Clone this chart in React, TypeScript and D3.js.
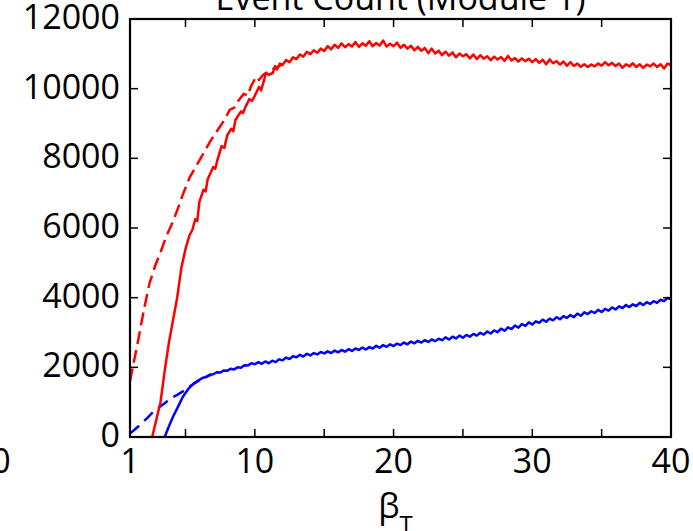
import React from "react";
import * as d3 from "d3";

const xTickMarks = [5, 10, 15, 20, 25, 30, 35];
const xTickLabels: [number, string][] = [[-8.3, "0"], [1, "1"], [10, "10"], [20, "20"], [30, "30"], [40, "40"]];
const yTickMarks = [2000, 4000, 6000, 8000, 10000];
const yTickLabels = [0, 2000, 4000, 6000, 8000, 10000, 12000];

const redSolid: [number, number][] = [
  [2.6, 0], [2.9, 500], [3.2, 1000], [3.5, 1900], [3.8, 2700], [4.1, 3350], [4.4, 4000], [4.7, 4850],
  [5.0, 5400], [5.3, 5800], [5.5, 5950], [5.7, 6250], [5.85, 6200], [6.0, 6750], [6.3, 7100], [6.45, 7050],
  [6.6, 7400], [7.0, 7750], [7.15, 7700], [7.3, 7950], [7.6, 8350], [7.8, 8300], [8.0, 8650], [8.3, 8850],
  [8.45, 8780], [8.6, 9100], [9.0, 9350], [9.15, 9300], [9.3, 9450], [9.6, 9700], [9.8, 9650], [10.0, 9800],
  [10.3, 10050], [10.45, 9950], [10.6, 10150], [10.8, 10450], [11.0, 10400], [11.3, 10450], [11.45, 10650],
  [11.6, 10550], [11.8, 10720],
  [12.0, 10680], [12.25, 10820], [12.5, 10760], [12.75, 10900], [13.0, 10850], [13.25, 10980], [13.5, 10920],
  [13.75, 11060], [14.0, 10990], [14.25, 11100], [14.5, 11030], [14.75, 11150], [15.0, 11080], [15.25, 11220],
  [15.5, 11130], [15.75, 11260], [16.0, 11170], [16.25, 11300], [16.5, 11190], [16.75, 11280], [17.0, 11210],
  [17.25, 11340], [17.5, 11200], [17.75, 11300], [18.0, 11230], [18.25, 11360], [18.5, 11220], [18.75, 11310],
  [19.0, 11240], [19.25, 11380], [19.5, 11210], [19.75, 11290], [20.0, 11220], [20.25, 11320], [20.5, 11170],
  [20.75, 11260], [21.0, 11150], [21.25, 11230], [21.5, 11100], [21.75, 11200], [22.0, 11090], [22.25, 11170],
  [22.5, 11020], [22.75, 11150], [23.0, 11010], [23.25, 11090], [23.5, 10960], [23.75, 11060], [24.0, 10950],
  [24.25, 11040], [24.5, 10900], [24.75, 11010], [25.0, 10930], [25.25, 10990], [25.5, 10870], [25.75, 10980],
  [26.0, 10850], [26.25, 10960], [26.5, 10860], [26.75, 10930], [27.0, 10820], [27.25, 10920], [27.5, 10840],
  [27.75, 10910], [28.0, 10800], [28.25, 10940], [28.5, 10810], [28.75, 10880], [29.0, 10780], [29.25, 10870],
  [29.5, 10790], [29.75, 10860], [30.0, 10760], [30.25, 10850], [30.5, 10740], [30.75, 10830], [31.0, 10700],
  [31.25, 10840], [31.5, 10730], [31.75, 10790], [32.0, 10690], [32.25, 10780], [32.5, 10660], [32.75, 10760],
  [33.0, 10650], [33.25, 10720], [33.5, 10630], [33.75, 10700], [34.0, 10620], [34.25, 10690], [34.5, 10640],
  [34.75, 10720], [35.0, 10660], [35.25, 10760], [35.5, 10670], [35.75, 10740], [36.0, 10650], [36.25, 10720],
  [36.5, 10600], [36.75, 10700], [37.0, 10640], [37.25, 10730], [37.5, 10620], [37.75, 10700], [38.0, 10600],
  [38.25, 10690], [38.5, 10640], [38.75, 10720], [39.0, 10620], [39.25, 10700], [39.5, 10580], [39.75, 10720],
  [40.0, 10680],
];

const redDashed: [number, number][] = [
  [1.0, 1600], [1.3, 2200], [1.6, 2800], [2.0, 3650], [2.4, 4400], [2.8, 4900], [3.2, 5300], [3.6, 5750],
  [4.0, 6100], [4.4, 6500], [4.8, 6950], [5.3, 7450], [5.8, 7800], [6.3, 8150], [6.8, 8500], [7.3, 8800],
  [7.8, 9100], [8.2, 9400], [8.5, 9450], [8.7, 9600], [9.2, 9850], [9.5, 9800], [9.7, 10050], [10.1, 10350],
  [10.3, 10250], [10.6, 10400], [11.0, 10500], [11.5, 10600], [12.0, 10700],
];

const blueSolid: [number, number][] = [
  [3.5, 0], [3.8, 300], [4.1, 580], [4.5, 900], [4.8, 1150], [5.2, 1380], [5.6, 1540],
  [6.0, 1640], [6.25, 1700], [6.5, 1720], [6.75, 1790], [7.0, 1800], [7.25, 1860], [7.5, 1850], [7.75, 1910],
  [8.0, 1900], [8.25, 1960], [8.5, 1940], [8.75, 2000], [9.0, 1990], [9.25, 2060], [9.5, 2050], [9.75, 2120],
  [10.0, 2090], [10.25, 2150], [10.5, 2100], [10.75, 2170], [11.0, 2120], [11.25, 2190], [11.5, 2150],
  [11.75, 2230], [12.0, 2200], [12.25, 2280], [12.5, 2240], [12.75, 2320], [13.0, 2290], [13.25, 2360],
  [13.5, 2310], [13.75, 2390], [14.0, 2340], [14.25, 2410], [14.5, 2370], [14.75, 2440], [15.0, 2400],
  [15.25, 2460], [15.5, 2410], [15.75, 2480], [16.0, 2430], [16.25, 2500], [16.5, 2450], [16.75, 2520],
  [17.0, 2470], [17.25, 2540], [17.5, 2500], [17.75, 2570], [18.0, 2510], [18.25, 2580], [18.5, 2540],
  [18.75, 2620], [19.0, 2560], [19.25, 2640], [19.5, 2590], [19.75, 2660], [20.0, 2610], [20.25, 2680],
  [20.5, 2640], [20.75, 2710], [21.0, 2660], [21.25, 2740], [21.5, 2690], [21.75, 2760], [22.0, 2710],
  [22.25, 2780], [22.5, 2730], [22.75, 2800], [23.0, 2750], [23.25, 2820], [23.5, 2780], [23.75, 2860],
  [24.0, 2800], [24.25, 2880], [24.5, 2830], [24.75, 2910], [25.0, 2850], [25.25, 2930], [25.5, 2880],
  [25.75, 2960], [26.0, 2910], [26.25, 2990], [26.5, 2940], [26.75, 3030], [27.0, 2970], [27.25, 3060],
  [27.5, 3010], [27.75, 3110], [28.0, 3050], [28.25, 3150], [28.5, 3100], [28.75, 3200], [29.0, 3140],
  [29.25, 3240], [29.5, 3190], [29.75, 3290], [30.0, 3230], [30.25, 3320], [30.5, 3280], [30.75, 3370],
  [31.0, 3310], [31.25, 3400], [31.5, 3350], [31.75, 3440], [32.0, 3380], [32.25, 3470], [32.5, 3420],
  [32.75, 3500], [33.0, 3440], [33.25, 3540], [33.5, 3480], [33.75, 3580], [34.0, 3530], [34.25, 3610],
  [34.5, 3560], [34.75, 3650], [35.0, 3590], [35.25, 3680], [35.5, 3630], [35.75, 3720], [36.0, 3660],
  [36.25, 3750], [36.5, 3700], [36.75, 3790], [37.0, 3730], [37.25, 3810], [37.5, 3760], [37.75, 3850],
  [38.0, 3790], [38.25, 3870], [38.5, 3820], [38.75, 3900], [39.0, 3850], [39.25, 3940], [39.5, 3900],
  [39.75, 3990], [40.0, 3960],
];

const blueDashed: [number, number][] = [
  [1.0, 100], [1.3, 200], [1.7, 340], [2.2, 530], [2.7, 730], [3.2, 880], [3.6, 1000], [3.9, 1110],
  [4.4, 1210], [4.9, 1330], [5.3, 1450], [5.8, 1580], [6.3, 1700], [6.8, 1780],
];

const FONT = "'Open Sans', sans-serif";

export default function App() {
  const left = 130, right = 671, top = 19, bottom = 437;
  const x = d3.scaleLinear().domain([1, 40]).range([left, right]);
  const y = d3.scaleLinear().domain([0, 12000]).range([bottom, top]);
  const line = d3.line<[number, number]>().x((d) => x(d[0])).y((d) => y(d[1]));
  const tickLen = 8;
  return (
    <svg width={693} height={531} style={{ position: "absolute", left: 0, top: 0, background: "#fff" }}>
      <rect x={0} y={0} width={693} height={531} fill="#fff" />
      <defs>
        <clipPath id="plot">
          <rect x={left} y={top} width={right - left} height={bottom - top} />
        </clipPath>
      </defs>
      <g clipPath="url(#plot)" fill="none" strokeWidth={2.5} strokeLinejoin="round">
        <path d={line(blueDashed) || ""} stroke="#0000ff" strokeDasharray="12,7" />
        <path d={line(blueSolid) || ""} stroke="#0000ff" />
        <path d={line(redDashed) || ""} stroke="#ff0000" strokeDasharray="13,6" />
        <path d={line(redSolid) || ""} stroke="#ff0000" />
      </g>
      <g stroke="#000" strokeWidth={1.5}>
        {xTickMarks.map((t) => (
          <g key={"xt" + t}>
            <line x1={x(t)} x2={x(t)} y1={bottom} y2={bottom - tickLen} />
            <line x1={x(t)} x2={x(t)} y1={top} y2={top + tickLen} />
          </g>
        ))}
        {yTickMarks.map((t) => (
          <g key={"yt" + t}>
            <line x1={left} x2={left + tickLen} y1={y(t)} y2={y(t)} />
            <line x1={right} x2={right - tickLen} y1={y(t)} y2={y(t)} />
          </g>
        ))}
      </g>
      <rect x={left} y={top} width={right - left} height={bottom - top} fill="none" stroke="#000" strokeWidth={2.2} />
      <g fontFamily={FONT} fontSize={34} fill="#000">
        {xTickLabels.map(([v, l]) => (
          <text key={"xl" + l} x={x(v)} y={bottom + 36} textAnchor="middle">{l}</text>
        ))}
        {yTickLabels.map((v) => (
          <text key={"yl" + v} x={left - 10} y={y(v) + 10} textAnchor="end">{v}</text>
        ))}
        <text x={(left + right) / 2} y={10} textAnchor="middle">Event Count (Module 1)</text>
        <text x={(left + right) / 2 - 5} y={518} textAnchor="middle">
          β<tspan fontSize={24} dy={15}>T</tspan>
        </text>
      </g>
    </svg>
  );
}
